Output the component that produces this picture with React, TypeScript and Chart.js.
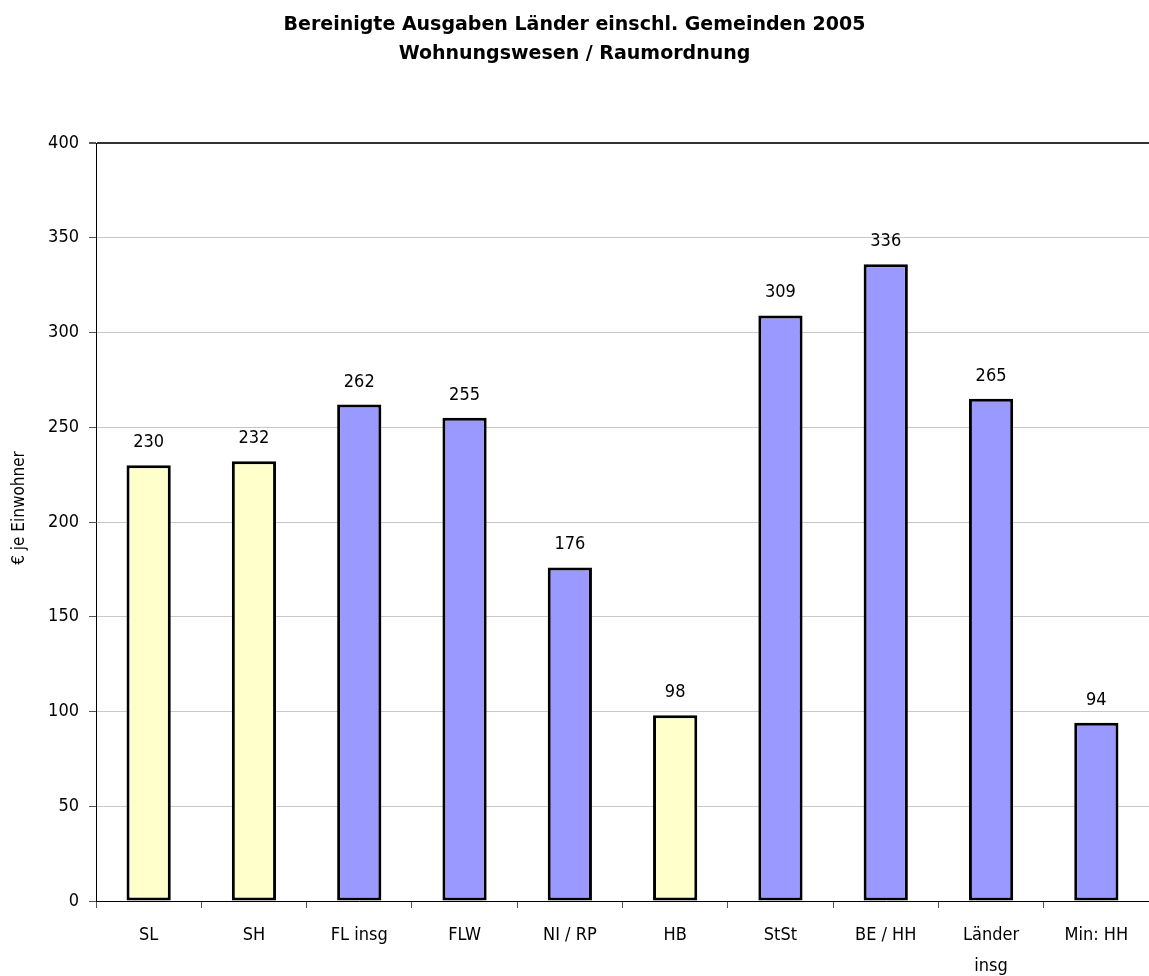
import React, { useEffect, useRef } from "react";
import { Chart, registerables } from "chart.js";

Chart.register(...registerables);

const titleLines = ["Bereinigte Ausgaben Länder einschl. Gemeinden 2005", "Wohnungswesen / Raumordnung"];
const yAxisTitle = "€ je Einwohner";
const categories: (string | string[])[] = ["SL", "SH", "FL insg", "FLW", "NI / RP", "HB", "StSt", "BE / HH", ["Länder", "insg"], "Min: HH"];
const values = [230, 232, 262, 255, 176, 98, 309, 336, 265, 94];
const isYellowGroup = [true, true, false, false, false, true, false, false, false, false];
const yMin = 0;
const yMax = 400;
const yStep = 50;

const FONT = '"DejaVu Sans Condensed", "DejaVu Sans", sans-serif';
const TITLE_FONT = '"DejaVu Sans", sans-serif';
const YELLOW = "#FFFFCC";
const BLUE = "#9999FF";

export default function App() {
  const ref = useRef<HTMLCanvasElement | null>(null);
  useEffect(() => {
    document.body.style.margin = "0";
    const canvas = ref.current;
    if (!canvas) return;

    const labelsPlugin = {
      id: "valueLabels",
      afterDatasetsDraw(chart: any) {
        const ctx = chart.ctx;
        const meta = chart.getDatasetMeta(0);
        ctx.save();
        ctx.font = `18px ${FONT}`;
        ctx.fillStyle = "#000";
        ctx.textAlign = "center";
        ctx.textBaseline = "alphabetic";
        meta.data.forEach((bar: any, i: number) => {
          ctx.fillText(String(values[i]), bar.x, bar.y - 18);
        });
        ctx.restore();
      },
    };

    const textPlugin = {
      id: "customText",
      afterDraw(chart: any) {
        const ctx = chart.ctx;
        ctx.save();
        ctx.fillStyle = "#000";
        ctx.textAlign = "center";
        ctx.textBaseline = "alphabetic";
        ctx.font = `bold 19px ${TITLE_FONT}`;
        ctx.fillText(titleLines[0], chart.width / 2, 30);
        ctx.fillText(titleLines[1], chart.width / 2, 59);
        ctx.translate(24, 508);
        ctx.rotate(-Math.PI / 2);
        ctx.font = `17px ${FONT}`;
        ctx.textBaseline = "alphabetic";
        ctx.fillText(yAxisTitle, 0, 0);
        ctx.restore();
      },
    };

    const chart = new Chart(canvas, {
      type: "bar",
      data: {
        labels: categories,
        datasets: [
          {
            data: values,
            backgroundColor: isYellowGroup.map((y) => (y ? YELLOW : BLUE)),
            borderColor: "#000",
            borderWidth: 3,
            borderSkipped: false,
            barPercentage: 0.42,
            categoryPercentage: 1,
          },
        ],
      },
      options: {
        responsive: false,
        animation: false,
        layout: { padding: { top: 143, left: 0, right: 0, bottom: 0 } },
        plugins: {
          legend: { display: false },
          title: { display: false },
          tooltip: { enabled: false },
        },
        scales: {
          x: {
            afterFit(scale: any) {
              scale.height = 75;
            },
            grid: {
              offset: true,
              drawOnChartArea: false,
              drawTicks: true,
              tickLength: 7,
              tickColor: "#555",
            },
            border: { color: "#000", width: 1 },
            ticks: {
              color: "#000",
              font: { family: FONT, size: 18, lineHeight: 1.7 },
              padding: 12,
              maxRotation: 0,
              autoSkip: false,
            },
          },
          y: {
            min: yMin,
            max: yMax,
            afterFit(scale: any) {
              scale.width = 96;
            },
            grid: {
              color: (c: any) => (c.tick && c.tick.value === yMax ? "#333" : "#c8c8c8"),
              lineWidth: (c: any) => (c.tick && c.tick.value === yMax ? 2 : 1),
              tickColor: "#555",
              tickLength: 7,
            },
            border: { color: "#000", width: 1 },
            ticks: {
              stepSize: yStep,
              color: "#000",
              font: { family: FONT, size: 18 },
              padding: 10,
            },
          },
        },
      },
      plugins: [labelsPlugin, textPlugin],
    });
    return () => chart.destroy();
  }, []);

  return (
    <div style={{ width: 1149, height: 976 }}>
      <canvas ref={ref} width={1149} height={976} />
    </div>
  );
}
